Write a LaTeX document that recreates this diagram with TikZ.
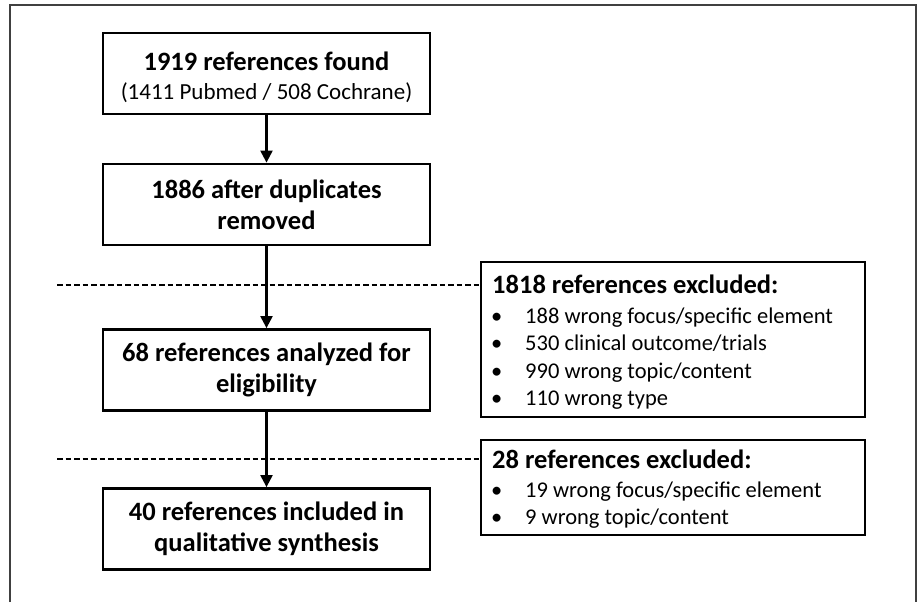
\documentclass[tikz,border=0pt]{standalone}
\usepackage{fontspec}
\setmainfont{Carlito}
\usetikzlibrary{arrows.meta}

\begin{document}
\begin{tikzpicture}[x=1pt,y=-1pt,
  stage/.style={draw=black, line width=2.8pt, minimum width=327pt, minimum height=81pt,
    inner sep=0pt, align=center, font=\fontsize{26.5}{31}\selectfont\bfseries},
  exclbox/.style={draw=black, line width=2.8pt, minimum width=384pt, inner sep=0pt},
  flow/.style={line width=2.2pt, -{Triangle[length=12pt,width=12pt]}},
  cut/.style={line width=2.5pt, dash pattern=on 5.5pt off 3pt},
  head/.style={anchor=base west, inner sep=0pt, font=\fontsize{26.5}{30}\selectfont\bfseries},
  item/.style={anchor=base west, inner sep=0pt, font=\fontsize{22.5}{27}\selectfont},
]
\useasboundingbox (0,0) rectangle (920,602);

% outer frame, open at the bottom
\draw[line width=1.5pt, draw=black!75] (10,602) -- (10,5) -- (916,5) -- (916,602);

% main flow
\node[stage] (found) at (266.5,73.5)
  {\rule{0pt}{26pt}1919 references found\\[-2pt]{\mdseries\fontsize{23}{27}\selectfont (1411 Pubmed / 508 Cochrane)}};
\node[stage] (dedup) at (266.5,204.5) {1886 after duplicates\\removed};
\node[stage] (elig) at (266.5,370) {68 references analyzed for\\eligibility};
\node[stage] (incl) at (266.5,529) {40 references included in\\qualitative synthesis};

\draw[flow] (found) -- (dedup);
\draw[flow] (dedup) -- (elig);
\draw[flow] (elig) -- (incl);

% first exclusion box
\node[exclbox, minimum height=155pt] (excl1) at (673,339.5) {};
\node[head] (excl1t) at (492,293) {1818 references excluded:};
\node[item] (b11) at (491,323) {\textbullet};
\node[item] (t11) at (525,323) {188 wrong focus/specific element};
\node[item] (b12) at (491,350) {\textbullet};
\node[item] (t12) at (525,350) {530 clinical outcome/trials};
\node[item] (b13) at (491,378) {\textbullet};
\node[item] (t13) at (525,378) {990 wrong topic/content};
\node[item] (b14) at (491,405) {\textbullet};
\node[item] (t14) at (525,405) {110 wrong type};

% second exclusion box
\node[exclbox, minimum height=95pt] (excl2) at (673,487.5) {};
\node[head] (excl2t) at (492,468) {28 references excluded:};
\node[item] (b21) at (491,497) {\textbullet};
\node[item] (t21) at (525,497) {19 wrong focus/specific element};
\node[item] (b22) at (491,524) {\textbullet};
\node[item] (t22) at (525,524) {9 wrong topic/content};

% dashed cut lines leading into the exclusion boxes
\coordinate (cut1) at (57,285);
\coordinate (cut2) at (57,459);
\draw[cut] (cut1) -- (cut1 -| excl1.west);
\draw[cut] (cut2) -- (cut2 -| excl2.west);
\end{tikzpicture}
\end{document}
